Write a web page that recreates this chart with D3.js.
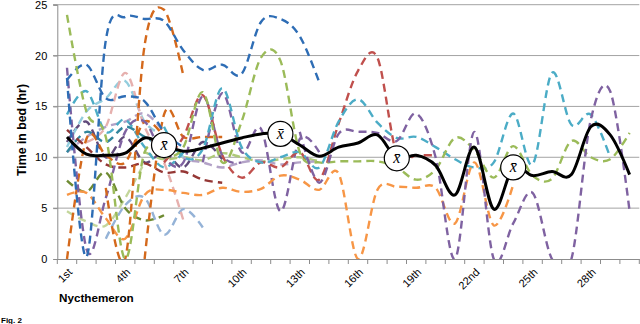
<!DOCTYPE html>
<html><head><meta charset="utf-8">
<script src="https://cdn.jsdelivr.net/npm/d3@7"></script>
<style>
body{margin:0;background:#fff;}
svg{display:block;font-family:"Liberation Sans",Arial,sans-serif;}
</style>
</head><body>
<svg id="c" width="640" height="324"></svg>
<script>
// ---- data ----
const days = ["1st","2nd","3rd","4th","5th","6th","7th","8th","9th","10th","11th","12th","13th","14th","15th","16th","17th","18th","19th","20th","21st","22nd","23rd","24th","25th","26th","27th","28th","29th","30th"];
const labelledDays = ["1st","4th","7th","10th","13th","16th","19th","22nd","25th","28th"];
const yTicks = [0,5,10,15,20,25];
const N = null;

const p01 = [17.8,0.2,21.5,23.8,23.6,23.4,20.5,18.6,19.1,18.2,23.3,23.6,21.9,17.4,N,N,N,N,N,N,N,N,N,N,N,N,N,N,N,N];
const p02 = [17.6,19.1,15.8,16.0,15.5,12.5,11.0,N,N,N,N,N,N,N,N,N,N,N,N,N,N,N,N,N,N,N,N,N,N,N];
const p03 = [24.0,14.5,12.0,0,10.5,10.0,11.0,16.4,9.5,13.5,19.8,19.5,10.5,9.5,9.6,9.6,9.6,9.0,7.8,8.8,11.9,10.7,8.0,11.1,8.2,7.9,11.6,10.0,9.8,12.4];
const p04 = [6.3,6.5,4.0,2.0,6.3,6.8,6.5,6.3,7.0,6.6,6.9,8.2,7.8,6.8,8.4,0,6.8,7.1,7.0,7.0,3.5,9.5,3.3,7.3,N,N,N,N,N,N];
const p05 = [N,N,7.0,0,21.0,24.5,18.0,N,N,N,N,N,N,N,N,N,N,N,N,N,N,N,N,N,N,N,N,N,N,N];
const p06 = [N,N,N,N,0,14.2,12.0,12.0,12.0,N,N,N,N,N,N,N,N,N,N,N,N,N,N,N,N,N,N,N,N,N];
const p07 = [0,11.8,10.2,9.5,13.5,12.0,N,N,N,N,N,N,N,N,N,N,N,N,N,N,N,N,N,N,N,N,N,N,N,N];
const p08 = [N,N,N,N,N,N,N,N,N,N,N,N,12.5,7.5,12.3,12.5,12.4,11.6,14.3,10.0,0,12.5,0,3.5,6.5,0,0,13.7,16.5,4.7];
const p09 = [18.8,1.0,6.0,12.5,13.5,10.0,9.5,16.0,10.2,9.5,N,N,N,N,N,N,N,N,N,N,N,N,N,N,N,N,N,N,N,N];
const p10 = [N,N,N,N,N,N,N,9.5,16.3,10.5,12.8,4.7,11.8,10.5,N,N,N,N,N,N,N,N,N,N,N,N,N,N,N,N];
const p11 = [N,N,N,N,N,13.0,10.0,10.8,16.8,11.0,9.5,10.0,10.5,9.0,13.5,15.7,13.4,11.9,12.0,11.0,9.8,9.0,9.5,14.3,9.3,18.3,13.2,14.2,10.0,N];
const p12 = [14.2,16.5,12.5,13.7,11.0,9.0,10.5,N,N,N,N,N,N,N,N,N,N,N,N,N,N,N,N,N,N,N,N,N,N,N];
const p13 = [11.0,14.5,15.8,17.5,13.5,12.0,10.0,N,N,N,N,N,N,N,N,N,N,N,N,N,N,N,N,N,N,N,N,N,N,N];
const p14 = [N,11.5,13.0,18.3,13.0,9.5,3.8,N,N,N,N,N,N,N,N,N,N,N,N,N,N,N,N,N,N,N,N,N,N,N];
const p15 = [N,N,N,N,N,9.5,12.0,16.1,10.2,8.0,9.5,9.0,10.5,7.8,13.3,18.5,19.8,10.3,10.2,10.2,N,N,N,N,N,N,N,N,N,N];
const p16 = [12.7,11.0,9.3,9.0,9.4,8.5,8.6,7.8,7.5,N,N,N,N,N,N,N,N,N,N,N,N,N,N,N,N,N,N,N,N,N];
const p17 = [N,N,2.0,5.3,6.0,2.4,4.9,3.1,N,N,N,N,N,N,N,N,N,N,N,N,N,N,N,N,N,N,N,N,N,N];
const p18 = [7.7,6.6,8.5,5.0,3.8,4.3,N,N,N,N,N,N,N,N,N,N,N,N,N,N,N,N,N,N,N,N,N,N,N,N];
const p19 = [4.7,3.7,3.3,6.0,9.5,N,N,N,N,N,N,N,N,N,N,N,N,N,N,N,N,N,N,N,N,N,N,N,N,N];
const p20 = [10.5,12.0,13.0,13.5,14.3,12.5,10.0,9.5,9.0,9.5,9.7,9.3,9.5,9.6,N,N,N,N,N,N,N,N,N,N,N,N,N,N,N,N];
const p21 = [10.5,12.5,11.5,13.0,12.0,11.0,10.5,N,N,N,N,N,N,N,N,N,N,N,N,N,N,N,N,N,N,N,N,N,N,N];
const p22 = [11.5,13.5,10.0,12.0,9.5,10.5,9.0,11.5,9.8,N,N,N,N,N,N,N,N,N,N,N,N,N,N,N,N,N,N,N,N,N];
const p23 = [N,N,N,N,10.5,9.8,10.0,9.7,10.4,10.0,9.6,9.8,10.0,9.6,N,N,N,N,N,N,N,N,N,N,N,N,N,N,N,N];

const meanHours = [12.0,10.3,10.2,10.4,11.9,11.2,10.6,10.9,11.4,11.9,12.3,12.3,11.2,10.1,11.0,11.4,12.2,9.9,10.2,9.2,6.3,11.0,4.9,9.0,8.2,8.6,8.3,13.0,12.2,8.3];
const markerDays = ["6th","12th","18th","24th"];

const participantSeries = [p23,p20,p21,p22,p19,p18,p17,p16,p13,p12,p14,p07,p06,p02,p10,p09,p15,p11,p04,p05,p03,p08,p01];
const participantColors = ["#AFC97A","#B3A2C7","#31859C","#604A7B","#C3D69B","#6E8B32","#95B3D7","#953735","#93CDDD","#4BACC6","#E6B0AE","#D4691C","#D4691C","#2E6DB5","#7F62A1","#7F62A1","#C0504D","#4BACC6","#F79646","#D4691C","#9BBB59","#7F62A1","#2E6DB5"];

// ---- chart ----
const svg = d3.select("#c");
const L = 57.3, R = 639.3, T = 4.7, B = 259;
const x = d3.scaleBand().domain(days).range([L, R]).padding(0);
const cx = d => x(d) + x.bandwidth() / 2;
const y = d3.scaleLinear().domain([0, 25]).range([B, T]);

// gridlines
svg.append("g").selectAll("line").data(yTicks.filter(t => t > 0)).join("line")
  .attr("x1", 53).attr("x2", R).attr("y1", d => y(d)).attr("y2", d => y(d))
  .attr("stroke", "#A3A3A3").attr("stroke-width", 1);

// y axis
const yAxis = d3.axisLeft(y).tickValues(yTicks).tickSize(4).tickPadding(6);
const gy = svg.append("g").attr("transform", `translate(${L},0)`).call(yAxis);
gy.select(".domain").attr("stroke", "#8C8C8C");
gy.selectAll(".tick line").attr("stroke", "#8C8C8C");
gy.selectAll("text").attr("font-size", 11).attr("fill", "#000").attr("font-family", '"Liberation Sans",Arial,sans-serif');

// x axis
const xAxis = d3.axisBottom(x).tickValues(labelledDays).tickSize(0).tickPadding(0);
const gx = svg.append("g").attr("transform", `translate(0,${B})`).call(xAxis);
gx.select(".domain").attr("stroke", "#8C8C8C");
gx.selectAll("text")
  .attr("font-size", 11).attr("fill", "#000").attr("font-family", '"Liberation Sans",Arial,sans-serif')
  .attr("text-anchor", "end").attr("y", 0).attr("dy", "0.75em")
  .attr("transform", "translate(0,8) rotate(-45)");
// category boundary ticks
const edges = days.map(d => x(d)).concat([R]);
svg.append("g").selectAll("line").data(edges).join("line")
  .attr("x1", d => d).attr("x2", d => d).attr("y1", B).attr("y2", B + 5)
  .attr("stroke", "#8C8C8C");

// clip
svg.append("clipPath").attr("id", "plot").append("rect")
  .attr("x", L).attr("y", T - 2).attr("width", R - L).attr("height", B - T + 2);

const line = d3.line()
  .defined(d => d.v != null)
  .x(d => cx(d.day)).y(d => y(d.v))
  .curve(d3.curveCardinal.tension(0));

const gl = svg.append("g").attr("clip-path", "url(#plot)");
participantSeries.forEach((s, i) => {
  gl.append("path")
    .attr("d", line(s.map((v, j) => ({day: days[j], v}))))
    .attr("fill", "none").attr("stroke", participantColors[i])
    .attr("stroke-width", 2.4).attr("stroke-dasharray", "8,5");
});

gl.append("path")
  .attr("d", line(meanHours.map((v, j) => ({day: days[j], v}))))
  .attr("fill", "none").attr("stroke", "#000").attr("stroke-width", 3);

// mean markers
const mk = svg.append("g").selectAll("g").data(markerDays).join("g")
  .attr("transform", d => `translate(${cx(d)},${y(meanHours[days.indexOf(d)])})`);
mk.append("circle").attr("r", 12.5).attr("fill", "#fff").attr("stroke", "#000").attr("stroke-width", 1.2);
mk.append("text").text("x\u0304")
  .attr("text-anchor", "middle").attr("dy", "0.3em")
  .attr("font-family", '"Liberation Serif","Times New Roman",serif')
  .attr("font-style", "italic").attr("font-size", 16);

// axis titles
svg.append("text").text("Nycthemeron")
  .attr("x", 59).attr("y", 302).attr("font-weight", "bold").attr("font-size", 11.7);
svg.append("text").text("Time in bed (hr)")
  .attr("transform", "translate(26,130) rotate(-90)").attr("text-anchor", "middle")
  .attr("font-weight", "bold").attr("font-size", 12.3);
svg.append("text").text("Fig. 2")
  .attr("x", 1).attr("y", 323).attr("font-weight", "bold").attr("font-size", 8);
</script>
</body></html>
